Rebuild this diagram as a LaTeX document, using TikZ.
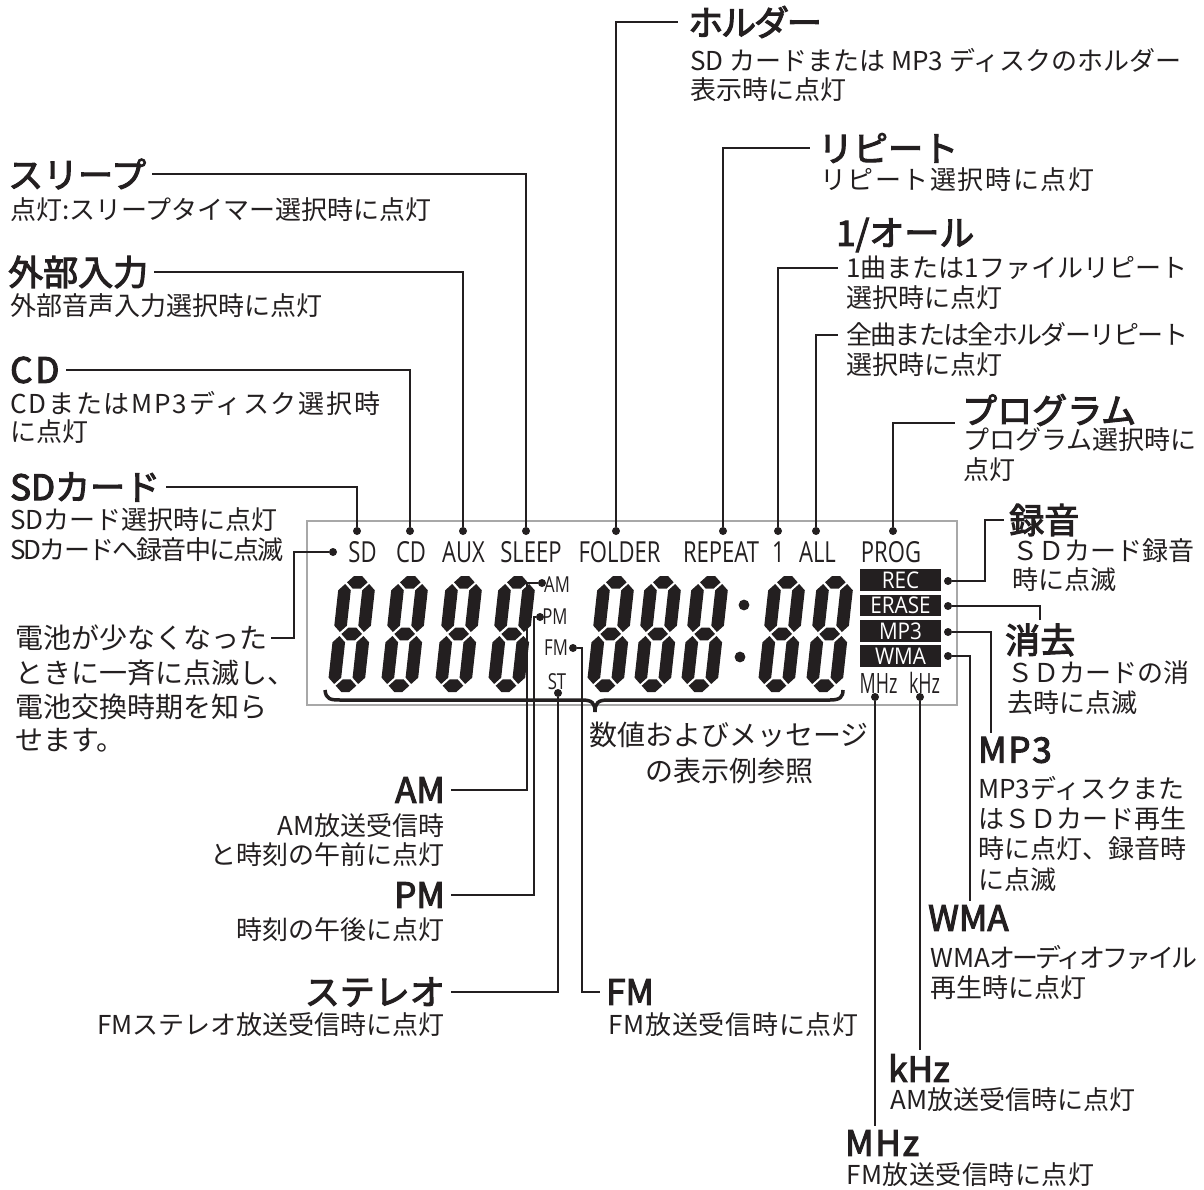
\documentclass[tikz,border=0pt]{standalone}
\usepackage{fontspec}
\usetikzlibrary{calc}
\newfontfamily\jp{Noto Sans CJK JP}
\newfontfamily\jph[FakeBold=3]{Noto Sans CJK JP}
\newfontfamily\lcdf[FakeStretch=0.76]{Open Sans}
\newfontfamily\lcdn[FakeStretch=0.64]{Open Sans}
\newfontfamily\boxf[FakeStretch=0.9]{Open Sans}
\definecolor{ink}{HTML}{231F20}
\definecolor{frm}{HTML}{A8A8A8}
\newcommand{\st}{6.3}
\newcommand{\hsg}[3]{\fill (#1,#3) -- (#1+\st,#3+\st) -- (#2-\st,#3+\st) -- (#2,#3) -- (#2-\st,#3-\st) -- (#1+\st,#3-\st) -- cycle;}
\newcommand{\vsg}[3]{\fill (#1,#2) -- (#1+\st,#2+\st) -- (#1+\st,#3-\st) -- (#1,#3) -- (#1-\st,#3-\st) -- (#1-\st,#2+\st) -- cycle;}
\newcommand{\sevseg}[2]{%
 \begin{scope}[shift={(#1,#2)}]
 \begin{scope}[x={(1pt,0pt)}, y={(0.11pt,1pt)}]
  \hsg{8}{28.6}{6.3}
  \hsg{8}{28.6}{58}
  \hsg{8}{28.6}{109.7}
  \vsg{6.3}{8}{56}
  \vsg{6.3}{60}{108}
  \vsg{30.3}{8}{56}
  \vsg{30.3}{60}{108}
 \end{scope}\end{scope}}
\begin{document}
\begin{tikzpicture}[x=1pt,y=-1pt,
  hd/.style={font=\jph\fontsize{35}{40}\selectfont, inner sep=0pt, text=ink},
  bd/.style={font=\jp\fontsize{26}{30}\selectfont, inner sep=0pt, text=ink},
  bg/.style={font=\jp\fontsize{28}{34}\selectfont, inner sep=0pt, text=ink},
  lcd/.style={font=\lcdf\fontsize{29}{32}\selectfont, inner sep=0pt, anchor=base, text=ink},
  lcdhz/.style={font=\lcdn\fontsize{28}{32}\selectfont, inner sep=0pt, anchor=base, text=ink},
  sml/.style={font=\lcdf\fontsize{22}{24}\selectfont, inner sep=0pt, text=ink},
  lcdtag/.style={fill=ink, text=white, font=\boxf\fontsize{23}{24}\selectfont, minimum width=81pt, minimum height=21.5pt, inner sep=0pt},
  dotn/.style={circle, fill=ink, inner sep=0pt, minimum size=8pt},
  conn/.style={draw=ink, line width=1.8pt},
  gapL/.style={shorten >=6pt}]
\useasboundingbox (0,0) rectangle (1204,1190);
\fill[white] (0,0) rectangle (1204,1190);
% LCD frame
\draw[frm, line width=1.5pt] (307,521) rectangle (957,705);
% digits
\begin{scope}[ink]
\sevseg{327}{692}\sevseg{380}{692}\sevseg{434}{692}\sevseg{487}{692}
\sevseg{586}{692}\sevseg{633}{692}\sevseg{680}{692}
\sevseg{757}{692}\sevseg{805}{692}
\fill (744,605) circle (5.4);
\fill (740,657) circle (5.4);
\end{scope}
% brace
\draw[ink, line width=3.5pt] (325,690) .. controls (326,699) and (330,700) .. (340,700) -- (582,700) .. controls (592,700) and (595,703) .. (595,712) .. controls (595,703) and (598,700) .. (608,700) -- (830,700) .. controls (840,700) and (843,697) .. (843,690);
% LCD labels
\node[lcd] (lSD) at (362.5,562) {SD};
\node[lcd] (lCD) at (411,562) {CD};
\node[lcd] (lAUX) at (463.5,562) {AUX};
\node[lcd] (lSLEEP) at (531,562) {SLEEP};
\node[lcd] (lFOLD) at (619.5,562) {FOLDER};
\node[lcd] (lREP) at (721,562) {REPEAT};
\node[lcd] (lONE) at (778.5,562) {1};
\node[lcd] (lALL) at (817.5,562) {ALL};
\node[lcd] (lPROG) at (891,562) {PROG};
\node[sml] (lAM) at (557,585) {AM};
\node[sml] (lPM) at (555,617) {PM};
\node[sml] (lFM) at (556,648) {FM};
\node[sml] (lST) at (557,682) {ST};
\node[lcdhz] (lMHZ) at (878.5,693) {MHz};
\node[lcdhz] (lKHZ) at (924.5,693) {kHz};
\node[lcdtag] (tREC) at (900.5,580) {REC};
\node[lcdtag] (tERA) at (900.5,605.5) {ERASE};
\node[lcdtag] (tMP3) at (900.5,631) {MP3};
\node[lcdtag] (tWMA) at (900.5,656) {WMA};
% dots
\node[dotn] (dSD) at (357,531) {};
\node[dotn] (dCD) at (410,531) {};
\node[dotn] (dAUX) at (463,531) {};
\node[dotn] (dSLEEP) at (526,531) {};
\node[dotn] (dFOLD) at (616,531) {};
\node[dotn] (dREP) at (723,531) {};
\node[dotn] (dONE) at (778,531) {};
\node[dotn] (dALL) at (816,531) {};
\node[dotn] (dPROG) at (893,531) {};
\node[dotn] (dBAT) at (333,552) {};
\node[dotn] (dREC) at (948,581) {};
\node[dotn] (dERA) at (948,606) {};
\node[dotn] (dMP3) at (948,632) {};
\node[dotn] (dWMA) at (948,656) {};
\node[dotn] (dMHZ) at (875,697) {};
\node[dotn] (dKHZ) at (920,697) {};
\node[dotn] (dAM) at (542,583) {};
\node[dotn] (dPM) at (540,617) {};
\node[dotn] (dFM) at (573,648) {};
\node[dotn] (dST) at (558,693) {};
% left callouts
\node[hd, anchor=west] (hSLEEP) at (8,174) {スリープ};
\node[bd, anchor=west] (bSLEEP) at (10,210) {点灯:スリープタイマー選択時に点灯};
\node[hd, anchor=west] (hAUX) at (8,272) {外部入力};
\node[bd, anchor=west] (bAUX) at (10,306) {外部音声入力選択時に点灯};
\node[hd, anchor=west] (hCD) at (10,370) {\addfontfeature{LetterSpace=8}CD};
\node[bd, anchor=west] (bCD1) at (10,403) {\addfontfeature{LetterSpace=7}CDまたはMP3ディスク選択時};
\node[bd, anchor=west] (bCD2) at (10,432) {に点灯};
\node[hd, anchor=west] (hSD) at (10,487) {SDカード};
\node[bd, anchor=west] (bSD1) at (10,520) {SDカード選択時に点灯};
\node[bd, anchor=west] (bSD2) at (10,550) {\addfontfeature{LetterSpace=-7}SDカードへ録音中に点滅};
\node[bg, anchor=west] (bat1) at (15,638) {電池が少なくなった};
\node[bg, anchor=west] (bat2) at (15,673) {ときに一斉に点滅し、};
\node[bg, anchor=west] (bat3) at (15,707) {電池交換時期を知ら};
\node[bg, anchor=west] (bat4) at (15,740) {せます。};
% top right callouts
\node[hd, anchor=west] (hFOLD) at (688,22) {\addfontfeature{LetterSpace=-6}ホルダー};
\node[bd, anchor=west] (bFOLD1) at (690,60) {SD カードまたは MP3 ディスクのホルダー};
\node[bd, anchor=west] (bFOLD2) at (690,90) {表示時に点灯};
\node[hd, anchor=west] (hREP) at (818,148) {リピート};
\node[bd, anchor=west] (bREP) at (820,180) {\addfontfeature{LetterSpace=6}リピート選択時に点灯};
\node[hd, anchor=west] (hONE) at (836,235) {1/オール};
\node[bd, anchor=west] (bONE1) at (846,268) {1曲または1ファイルリピート};
\node[bd, anchor=west] (bONE2) at (846,298) {選択時に点灯};
\node[bd, anchor=west] (bALL1) at (846,335) {\addfontfeature{LetterSpace=-6.5}全曲または全ホルダーリピート};
\node[bd, anchor=west] (bALL2) at (846,365) {選択時に点灯};
\node[hd, anchor=west] (hPROG) at (962,410) {プログラム};
\node[bd, anchor=west] (bPROG1) at (963,440) {プログラム選択時に};
\node[bd, anchor=west] (bPROG2) at (963,470) {点灯};
% right callouts
\node[hd, anchor=west] (hREC) at (1009,520) {録音};
\node[bd, anchor=west] (bREC1) at (1012,551) {ＳＤカード録音};
\node[bd, anchor=west] (bREC2) at (1012,580) {時に点滅};
\node[hd, anchor=west] (hERA) at (1005,640) {消去};
\node[bd, anchor=west] (bERA1) at (1007,673) {ＳＤカードの消};
\node[bd, anchor=west] (bERA2) at (1007,703) {去時に点滅};
\node[hd, anchor=west] (hMP3) at (978,750) {\addfontfeature{LetterSpace=5}MP3};
\node[bd, anchor=west] (bMP31) at (978,788) {MP3ディスクまた};
\node[bd, anchor=west] (bMP32) at (978,819) {はＳＤカード再生};
\node[bd, anchor=west] (bMP33) at (978,849) {時に点灯、録音時};
\node[bd, anchor=west] (bMP34) at (978,880) {に点滅};
\node[hd, anchor=west] (hWMA) at (928,918) {WMA};
\node[bd, anchor=west] (bWMA1) at (930,957) {WMA{\addfontfeature{LetterSpace=-12}オーディオファイル}};
\node[bd, anchor=west] (bWMA2) at (930,988) {再生時に点灯};
\node[hd, anchor=west] (hKHZ) at (888,1068) {kHz};
\node[bd, anchor=west] (bKHZ) at (890,1100) {AM放送受信時に点灯};
\node[hd, anchor=west] (hMHZ) at (845,1143) {\addfontfeature{LetterSpace=5}MHz};
\node[bd, anchor=west] (bMHZ) at (846,1175) {\addfontfeature{LetterSpace=2}FM放送受信時に点灯};
% bottom callouts
\node[hd, anchor=east] (hAM) at (445,790) {AM};
\node[bd, anchor=east] (bAM1) at (445,826) {AM放送受信時};
\node[bd, anchor=east] (bAM2) at (445,855) {と時刻の午前に点灯};
\node[hd, anchor=east] (hPM) at (445,895) {PM};
\node[bd, anchor=east] (bPM) at (445,930) {時刻の午後に点灯};
\node[hd, anchor=east] (hST) at (445,992) {ステレオ};
\node[bd, anchor=east] (bST) at (445,1025) {FMステレオ放送受信時に点灯};
\node[hd, anchor=west] (hFM) at (606,992) {FM};
\node[bd, anchor=west] (bFM) at (608,1025) {\addfontfeature{LetterSpace=3}FM放送受信時に点灯};
\node[bg] (note1) at (729,735) {数値およびメッセージ};
\node[bg] (note2) at (729,771) {の表示例参照};
% connectors
\draw[conn, gapL] (dSLEEP) |- (hSLEEP);
\draw[conn, gapL] (dAUX) |- (hAUX);
\draw[conn, gapL] (dCD) |- (hCD);
\draw[conn, gapL] (dSD) |- (hSD);
\draw[conn, shorten >=4pt] (dBAT) -- ++(-39,0) |- (bat1);
\draw[conn, shorten >=10pt] (dFOLD) |- (hFOLD);
\draw[conn, shorten >=8pt] (dREP) |- (hREP);
\draw[conn, shorten >=8pt] (dONE) |- (bONE1);
\draw[conn, shorten >=8pt] (dALL) |- (bALL1);
\draw[conn, shorten >=7pt] (dPROG) |- ([yshift=-13pt]hPROG.west);
\draw[conn, shorten >=5pt] (dREC) -- ++(37,0) |- (hREC);
\draw[conn, shorten >=4pt] (dERA) -| (hERA.north);
\draw[conn, shorten >=4pt] (dMP3) -| ([xshift=13pt]hMP3.north west);
\draw[conn, shorten >=4pt] (dWMA) -| ([xshift=42pt]hWMA.north west);
\draw[conn, shorten >=4pt] (dKHZ) -- (dKHZ |- hKHZ.north);
\draw[conn, shorten >=4pt] (dMHZ) -- (dMHZ |- hMHZ.north);
\draw[conn, gapL] (dAM) -- ++(-15,0) |- (hAM);
\draw[conn, gapL] (dPM) -- ++(-6,0) |- (hPM);
\draw[conn, gapL] (dST) |- (hST);
\draw[conn, gapL] (dFM) -- ++(9,0) |- (hFM);
\end{tikzpicture}
\end{document}
